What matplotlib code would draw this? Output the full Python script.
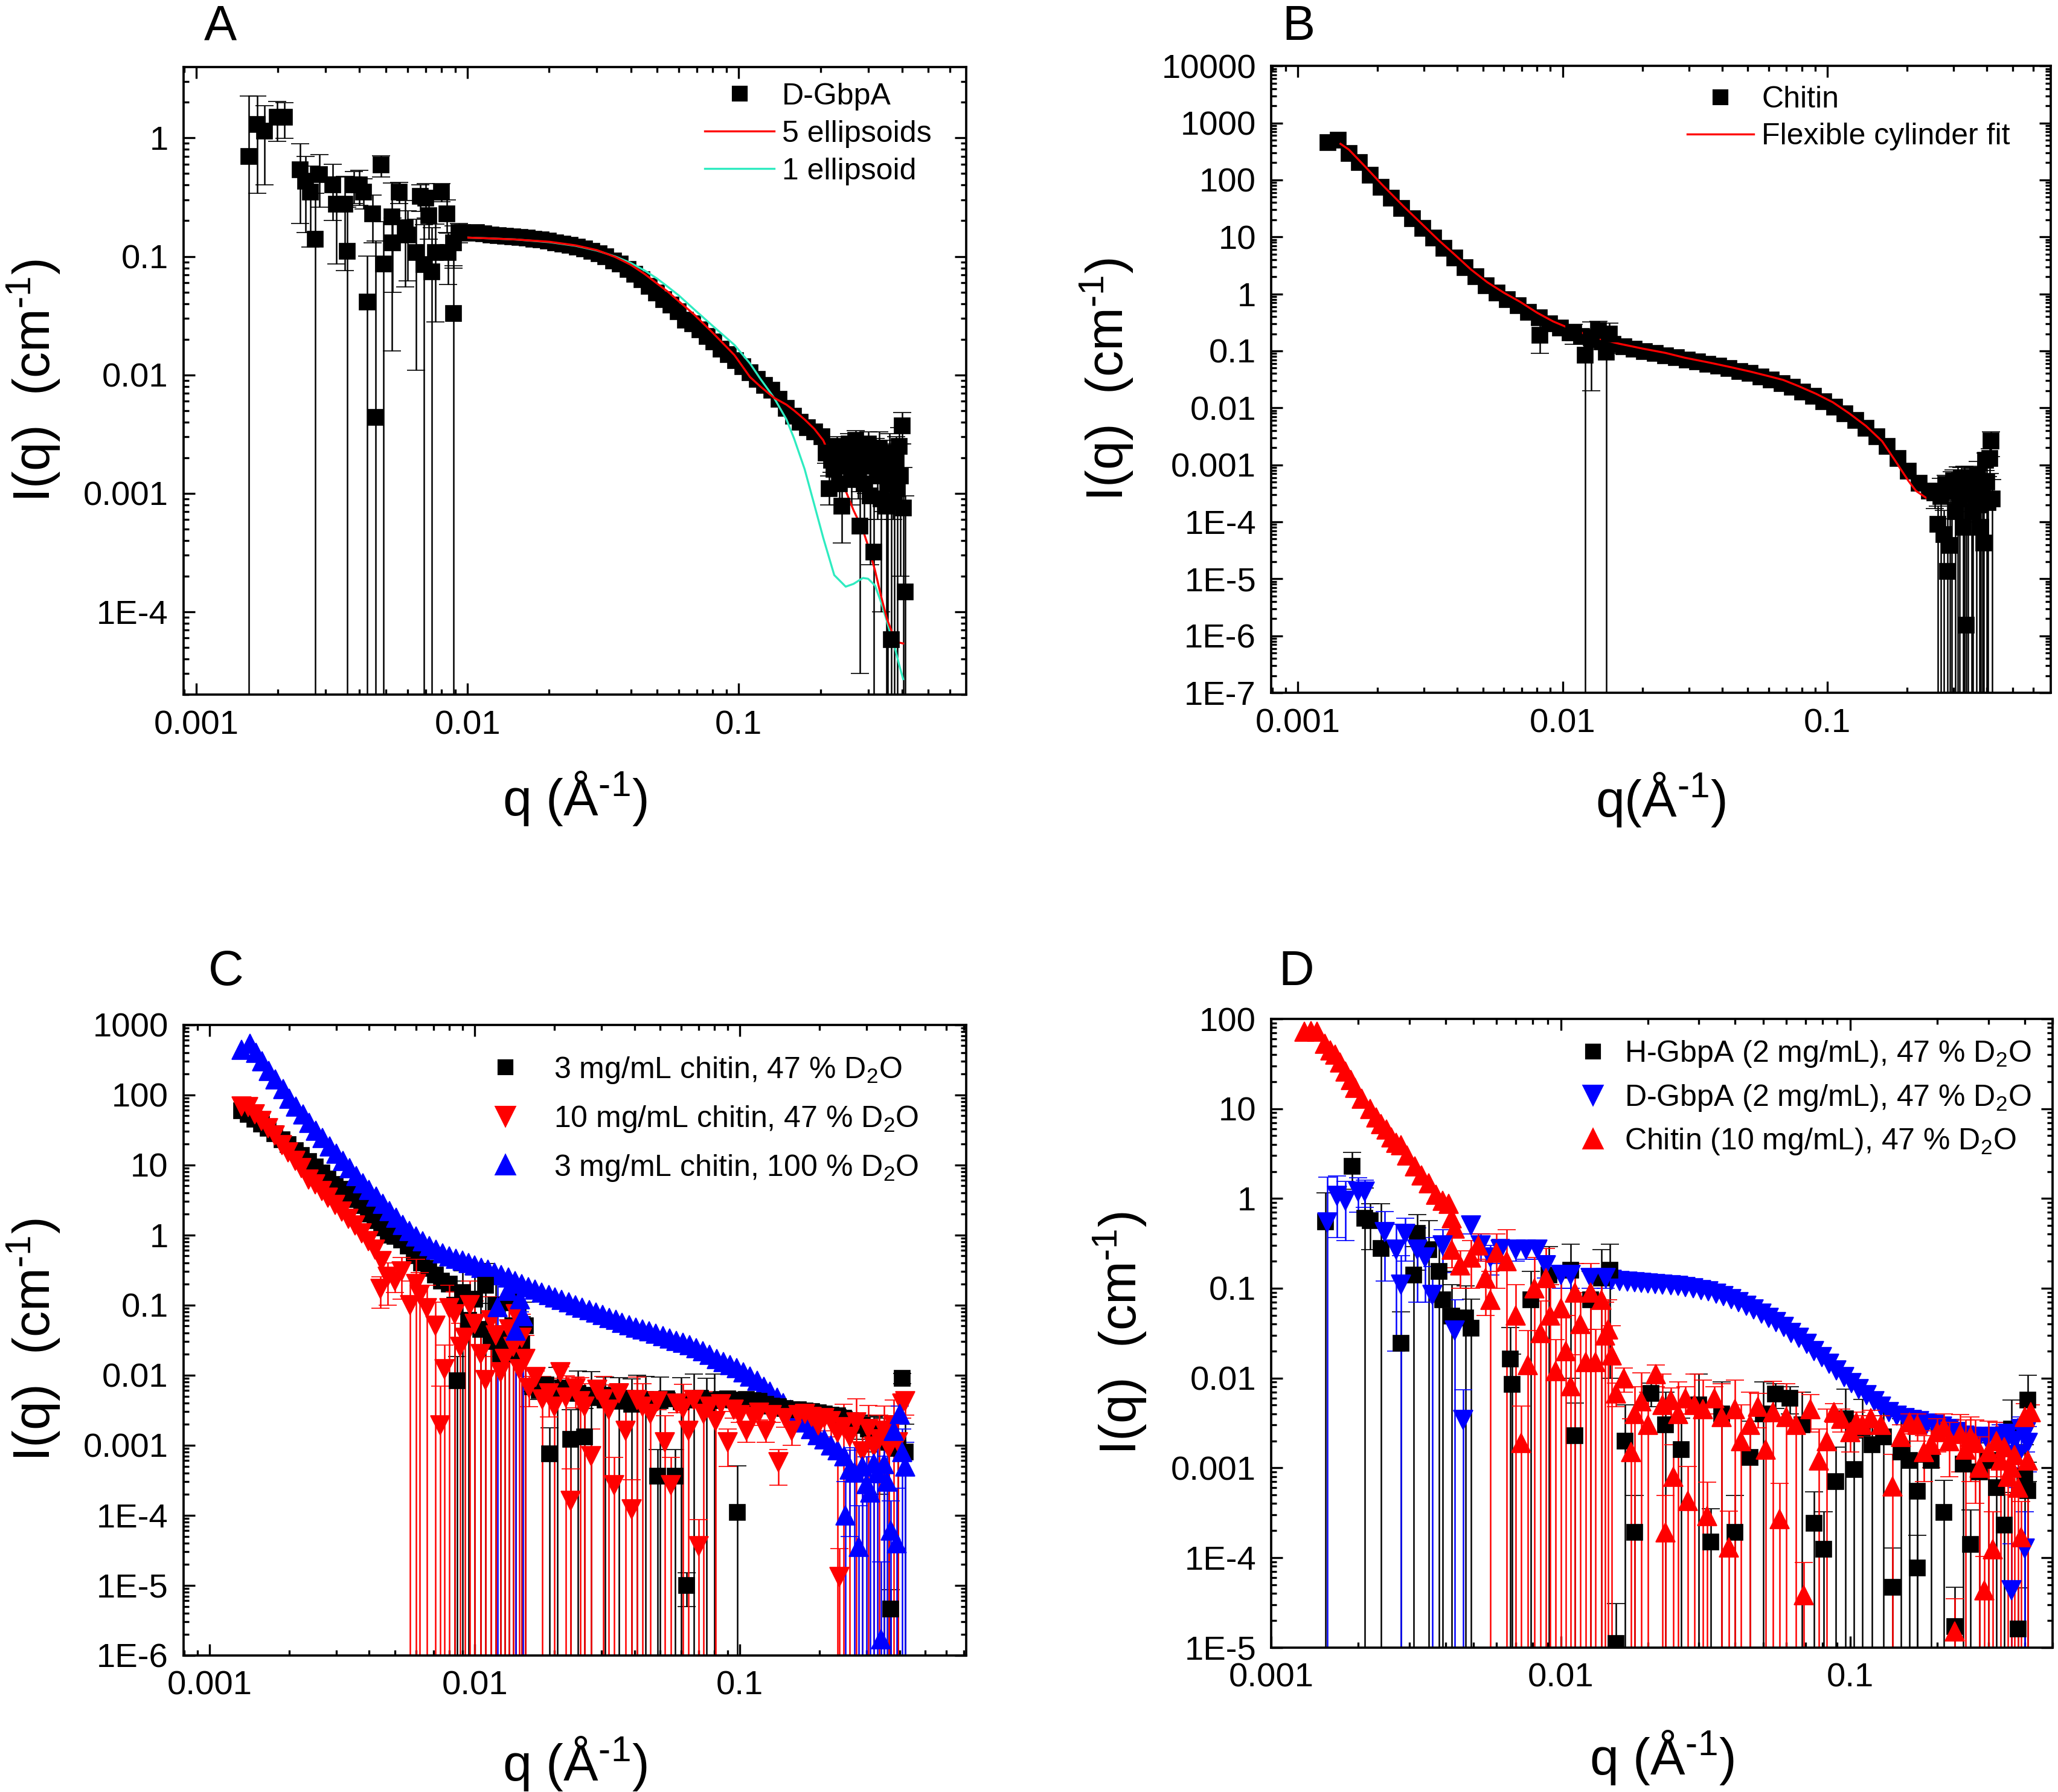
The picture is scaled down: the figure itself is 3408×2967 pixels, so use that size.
import numpy as np
import matplotlib
matplotlib.use('Agg')
import matplotlib.pyplot as plt
from matplotlib.lines import Line2D
from matplotlib.ticker import LogLocator, FuncFormatter, NullFormatter

plt.rcParams['font.family'] = ['Liberation Sans', 'DejaVu Sans']
plt.rcParams['mathtext.fontset'] = 'custom'
plt.rcParams['mathtext.rm'] = 'Liberation Sans'
plt.rcParams['mathtext.it'] = 'Liberation Sans:italic'
plt.rcParams['mathtext.bf'] = 'Liberation Sans:bold'
plt.rcParams['mathtext.default'] = 'rm'

CYAN = '#2EEBC0'

# ---------------- panel A : D-GbpA ----------------
qA_lo = [0.00156, 0.00168, 0.00178, 0.00199, 0.00211, 0.00242, 0.00253, 0.00264, 0.00274, 0.00285,
         0.00318, 0.00329, 0.00352, 0.0036, 0.00382, 0.004, 0.00413, 0.00426, 0.00446, 0.00459,
         0.0048, 0.0049, 0.00525, 0.0053, 0.0056, 0.0059, 0.006, 0.00645, 0.0067, 0.0069,
         0.007, 0.0072, 0.0074, 0.0076, 0.008, 0.0084, 0.0085, 0.0089, 0.0089, 0.0093]
IA_lo = [0.70, 1.30, 1.14, 1.49, 1.49, 0.54, 0.43, 0.35, 0.14, 0.49,
         0.40, 0.276, 0.276, 0.11, 0.40, 0.40, 0.35, 0.041, 0.23, 0.0044,
         0.59, 0.086, 0.216, 0.13, 0.35, 0.175, 0.152, 0.108, 0.32, 0.085,
         0.31, 0.22, 0.074, 0.108, 0.35, 0.23, 0.108, 0.033, 0.13, 0.16]
eA_lo = [1.56, 0.96, 0.74, 0.55, 0.5, 0.35, 0.27, 0.23, 0.2, 0.23,
         0.2, 0.19, 0.2, 0.15, 0.12, 0.13, 0.1, 0.06, 0.1, 0.13,
         0.12, 0.11, 0.2, 0.08, 0.07, 0.12, 0.09, 0.097, 0.08, 0.1,
         0.1, 0.08, 0.1, 0.08, 0.06, 0.07, 0.05, 0.05, 0.05, 0.03]
qA_s = [0.0096, 0.0102, 0.0108, 0.0115, 0.0122, 0.013, 0.0138, 0.0147, 0.0156, 0.0166,
        0.0176, 0.0187, 0.0199, 0.0211, 0.0225, 0.0239, 0.0254, 0.027, 0.0287, 0.0305,
        0.0324, 0.0345, 0.0366, 0.039, 0.0414, 0.044, 0.0468, 0.0497, 0.0529, 0.0562,
        0.0597, 0.0635, 0.0675, 0.0718, 0.0763, 0.0811, 0.0862, 0.0916, 0.0974, 0.1035,
        0.11, 0.117, 0.1244, 0.1322, 0.1405, 0.1494, 0.1588, 0.1688, 0.1794, 0.1907, 0.2027]
IA_s = [0.16, 0.158, 0.16, 0.155, 0.152, 0.15, 0.148, 0.146, 0.145, 0.143,
        0.14, 0.138, 0.135, 0.13, 0.127, 0.124, 0.12, 0.116, 0.111, 0.105,
        0.099, 0.092, 0.086, 0.078, 0.071, 0.064, 0.056, 0.049, 0.043, 0.039,
        0.034, 0.029, 0.027, 0.024, 0.021, 0.019, 0.0165, 0.0148, 0.0132, 0.0118,
        0.0105, 0.0092, 0.0082, 0.0074, 0.0062, 0.0052, 0.0045, 0.004, 0.0036, 0.0033, 0.003]
qA_hi = [0.21, 0.215, 0.22, 0.225, 0.23, 0.235, 0.24, 0.245, 0.25, 0.255,
         0.26, 0.265, 0.27, 0.275, 0.28, 0.285, 0.29, 0.295, 0.30, 0.305,
         0.31, 0.315, 0.32, 0.325, 0.33, 0.335, 0.34, 0.345, 0.35, 0.355,
         0.36, 0.365, 0.37, 0.375, 0.38, 0.385, 0.39, 0.395, 0.40, 0.405, 0.41]
IA_hi = [0.0022, 0.0011, 0.0019, 0.0016, 0.0025, 0.0012, 0.00078, 0.0021, 0.0017, 0.0026,
         0.0013, 0.0019, 0.0028, 0.0015, 0.00053, 0.0022, 0.0012, 0.0017, 0.0026, 0.00095,
         0.0018, 0.00032, 0.0021, 0.0014, 0.0024, 0.0009, 0.0016, 0.0019, 0.00078, 0.0012,
         0.0022, 0.000058, 0.0016, 0.00085, 0.0019, 0.0011, 0.0025, 0.0014, 0.0037, 0.00075, 0.000148]
eA_hi = [0.0004, 0.0003, 0.0004, 0.0004, 0.0005, 0.0004, 0.0004, 0.0005, 0.0005, 0.0006,
         0.0005, 0.0006, 0.0006, 0.0006, 0.0005, 0.0007, 0.0006, 0.0007, 0.0007, 0.0007,
         0.0008, 0.0006, 0.0008, 0.0008, 0.0009, 0.0008, 0.0009, 0.0009, 0.0009, 0.0013,
         0.001, 0.0008, 0.001, 0.0009, 0.0011, 0.0012, 0.0011, 0.0012, 0.0011, 0.0009, 0.0008]
qA_fit = [0.0093, 0.012, 0.015, 0.02, 0.025, 0.03, 0.035, 0.04, 0.045, 0.05,
          0.055, 0.06, 0.0686, 0.08, 0.0964, 0.11, 0.12, 0.135, 0.15, 0.16,
          0.175, 0.19, 0.205, 0.225, 0.248, 0.265, 0.287, 0.30, 0.318, 0.335,
          0.352, 0.365, 0.377, 0.39, 0.404]
IA_fit5 = [0.145, 0.142, 0.139, 0.133, 0.124, 0.113, 0.099, 0.085, 0.071, 0.059,
           0.05, 0.042, 0.0322, 0.0228, 0.0147, 0.0096, 0.008, 0.0064, 0.0056, 0.005,
           0.0042, 0.0035, 0.0028, 0.0017, 0.00105, 0.00072, 0.00049, 0.00036, 0.000224, 0.000135,
           8.7e-5, 7e-5, 5.9e-5, 5.5e-5, 5.4e-5]
IA_fit1 = [0.145, 0.142, 0.139, 0.132, 0.123, 0.112, 0.1, 0.088, 0.076, 0.065,
           0.055, 0.047, 0.0356, 0.026, 0.0179, 0.0125, 0.0093, 0.0064, 0.0042, 0.0029,
           0.0016, 0.0008, 0.00042, 0.000204, 0.000163, 0.000172, 0.000193, 0.00019, 0.000167, 0.00012,
           8.3e-5, 6.2e-5, 4.9e-5, 3.6e-5, 2.7e-5]

# ---------------- panel B : chitin ----------------
qB_s = [0.0013, 0.00142, 0.00156, 0.00171, 0.00188, 0.00206, 0.00226, 0.00247, 0.00271, 0.00297,
        0.00326, 0.00357, 0.00391, 0.00429, 0.0047, 0.00515, 0.00565, 0.00619, 0.00678, 0.00743,
        0.00815, 0.00893, 0.00979, 0.0107, 0.0118, 0.0129, 0.0141, 0.0155, 0.017, 0.0186,
        0.0204, 0.0224, 0.0245, 0.0269, 0.0295, 0.0323, 0.0354, 0.0388, 0.0425, 0.0466,
        0.0511, 0.056, 0.0614, 0.0673, 0.0737, 0.0808, 0.0886, 0.0971, 0.1064, 0.1166,
        0.1278, 0.1401, 0.1536, 0.1683, 0.1845, 0.2022, 0.2216, 0.243]
IB_s = [450, 500, 290, 200, 120, 75, 48, 32, 21, 14,
        9.5, 6.4, 4.3, 2.9, 2.0, 1.4, 1.05, 0.8, 0.62, 0.48,
        0.38, 0.3, 0.25, 0.21, 0.18, 0.16, 0.145, 0.13, 0.118, 0.107,
        0.098, 0.09, 0.083, 0.076, 0.07, 0.064, 0.059, 0.054, 0.049, 0.044,
        0.04, 0.035, 0.031, 0.027, 0.023, 0.019, 0.016, 0.0128, 0.0102, 0.0079,
        0.006, 0.0044, 0.0031, 0.0021, 0.0013, 0.00078, 0.00048, 0.00035]
qB_m = [0.0082, 0.011, 0.0122, 0.0128, 0.0137, 0.0146, 0.015]
IB_m = [0.19, 0.21, 0.085, 0.17, 0.23, 0.094, 0.2]
eB_m = [0.1, 0.08, 0.1, 0.15, 0.1, 0.12, 0.11]
qB_h = [0.255, 0.262, 0.268, 0.275, 0.28, 0.285, 0.29, 0.295, 0.30, 0.305,
        0.31, 0.315, 0.32, 0.325, 0.33, 0.335, 0.34, 0.345, 0.35, 0.355,
        0.36, 0.365, 0.37, 0.375, 0.38, 0.385, 0.39, 0.395, 0.40, 0.405,
        0.41, 0.415, 0.42]
IB_h = [0.00032, 9e-5, 0.00028, 6e-5, 0.00045, 1.35e-5, 3.9e-5, 0.00035, 0.00052, 0.00015,
        0.00042, 0.00025, 0.0006, 8e-5, 0.00045, 1.55e-6, 0.0003, 0.00055, 0.00035, 0.00015,
        0.0005, 0.00028, 0.00065, 0.0002, 8e-5, 0.0004, 4.3e-5, 0.0012, 0.0005, 0.00022,
        0.0013, 0.0026, 0.00025]
eB_h = [0.00015, 0.0001, 0.0003, 0.0001, 0.0002, 0.0001, 0.0002, 0.0004, 0.0003, 0.0003,
        0.0005, 0.0004, 0.0003, 0.0002, 0.0005, 0.0002, 0.0004, 0.0004, 0.0005, 0.0003,
        0.0004, 0.0004, 0.0005, 0.0003, 0.0002, 0.0005, 0.0002, 0.0004, 0.0006, 0.0004,
        0.0006, 0.0012, 0.0003]
qB_fit = [0.00145, 0.00156, 0.0018, 0.00208, 0.0025, 0.00293, 0.0034, 0.0039, 0.0045, 0.0052,
          0.006, 0.0069, 0.008, 0.0092, 0.0106, 0.0122, 0.014, 0.0163, 0.02, 0.0245,
          0.0289, 0.036, 0.043, 0.051, 0.06, 0.068, 0.078, 0.0908, 0.105, 0.121,
          0.14, 0.161, 0.18, 0.202, 0.216, 0.24, 0.27, 0.30, 0.32, 0.35,
          0.38, 0.406]
IB_fit = [430, 340, 170, 83, 35, 17.2, 8.8, 4.97, 2.7, 1.6,
          1.05, 0.73, 0.47, 0.33, 0.25, 0.197, 0.16, 0.134, 0.11, 0.092,
          0.076, 0.062, 0.052, 0.0435, 0.036, 0.031, 0.024, 0.0176, 0.0125, 0.008,
          0.0048, 0.0026, 0.0012, 0.00053, 0.00035, 0.00025, 0.00028, 0.00034, 0.00034, 0.00031,
          0.00027, 0.000245]

# ---------------- panel C : chitin contrasts ----------------
qCk_s = [0.00132, 0.0014, 0.00148, 0.00157, 0.00166, 0.00176, 0.00187, 0.00198, 0.0021, 0.00222,
         0.00236, 0.0025, 0.00265, 0.0028, 0.00297, 0.00315, 0.00334, 0.00354, 0.00375, 0.00397,
         0.0042, 0.00446, 0.00472, 0.005, 0.0053, 0.0056, 0.0059, 0.0063, 0.0067, 0.0071,
         0.0075, 0.008]
ICk_s = [59, 52, 45, 38, 33, 28, 23, 19.5, 16, 13.5,
         11.2, 9.3, 7.6, 6.3, 5.3, 4.5, 3.8, 3.2, 2.6, 2.0,
         1.6, 1.25, 1.0, 0.95, 0.85, 0.7, 0.5, 0.4, 0.33, 0.27,
         0.22, 0.2]
qCk_m = [0.0084, 0.0086, 0.009, 0.0095, 0.01, 0.0105, 0.011, 0.0115, 0.012, 0.0125,
         0.013, 0.0135, 0.014, 0.0143, 0.015, 0.0155]
ICk_m = [0.1, 0.0083, 0.15, 0.06, 0.12, 0.045, 0.19, 0.03, 0.1, 0.02,
         0.033, 0.11, 0.05, 0.02, 0.028, 0.05]
eCk_m = [0.12, 0.01, 0.16, 0.08, 0.15, 0.06, 0.2, 0.05, 0.12, 0.03,
         0.05, 0.12, 0.07, 0.03, 0.04, 0.06]
qCk_f = [0.0165, 0.0175, 0.0185, 0.0191, 0.0205, 0.0215, 0.023, 0.0245, 0.026, 0.0275,
         0.029, 0.031, 0.033, 0.035, 0.037, 0.039, 0.041, 0.044, 0.049, 0.05,
         0.053, 0.057, 0.06, 0.063, 0.067, 0.071, 0.075, 0.08, 0.085, 0.09,
         0.095, 0.0976, 0.106, 0.112, 0.118, 0.125, 0.132, 0.14, 0.148, 0.157,
         0.166, 0.176, 0.186, 0.197, 0.208, 0.22, 0.233, 0.246, 0.26, 0.275,
         0.29, 0.305, 0.32, 0.335, 0.35, 0.365, 0.37, 0.395, 0.41, 0.42]
ICk_f = [0.0068, 0.006, 0.0072, 0.00075, 0.0058, 0.0065, 0.0012, 0.0055, 0.0013, 0.0052,
         0.0048, 0.0044, 0.0052, 0.0042, 0.0047, 0.0038, 0.004, 0.0045, 0.00036, 0.0043,
         0.0046, 0.00036, 0.0041, 1e-5, 0.0044, 0.0047, 0.0039, 0.0043, 0.0045, 0.0046,
         0.0044, 1.1e-4, 0.0045, 0.0043, 0.0042, 0.0038, 0.0036, 0.0035, 0.0033, 0.0032,
         0.0032, 0.0031, 0.003, 0.0029, 0.0028, 0.0027, 0.0026, 0.0024, 0.0022, 0.002,
         0.0019, 0.0017, 0.0015, 0.0014, 0.0012, 0.0011, 4.6e-6, 0.0009, 0.009, 0.0008]
eCk_f = [0.001, 0.0015, 0.001, 0.001, 0.007, 0.001, 0.002, 0.006, 0.002, 0.006,
         0.001, 0.005, 0.001, 0.005, 0.001, 0.005, 0.006, 0.005, 0.0005, 0.005,
         0.001, 0.0005, 0.005, 5e-6, 0.006, 0.001, 0.005, 0.006, 0.001, 0.0007,
         0.0006, 4e-4, 0.0006, 0.0006, 0.0005, 0.0005, 0.0005, 0.0005, 0.0005, 0.0005,
         0.0005, 0.0005, 0.0005, 0.0005, 0.0005, 0.0006, 0.0006, 0.0006, 0.0007, 0.0008,
         0.0008, 0.0009, 0.001, 0.0012, 0.0012, 0.0015, 4e-6, 0.0015, 0.0015, 0.0012]

qCr_s = [0.00132, 0.0014, 0.00148, 0.00157, 0.00166, 0.00176, 0.00187, 0.00198, 0.0021, 0.00222,
         0.00236, 0.0025, 0.00265, 0.0028, 0.00297, 0.00315, 0.00334, 0.00354, 0.00375, 0.00397,
         0.0042, 0.00446]
ICr_s = [68, 66, 52, 42, 33, 26, 19, 15, 11.5, 9,
         6.2, 5.2, 4.2, 3.4, 2.7, 2.15, 1.7, 1.35, 1.05, 0.82,
         0.62, 0.42]
qCr_m = [0.0044, 0.0047, 0.005, 0.0053, 0.0057, 0.006, 0.0062, 0.0066, 0.0071, 0.0074,
         0.0077, 0.008, 0.0084, 0.0088, 0.0092, 0.0096, 0.01, 0.0105, 0.011, 0.0115,
         0.012, 0.0125, 0.013, 0.0135, 0.014, 0.0143, 0.0147, 0.015, 0.0155]
ICr_m = [0.17, 0.25, 0.22, 0.3, 0.1, 0.2, 0.14, 0.09, 0.05, 0.0019,
         0.012, 0.09, 0.074, 0.025, 0.034, 0.1, 0.054, 0.02, 0.0084, 0.06,
         0.037, 0.011, 0.017, 0.045, 0.025, 0.074, 0.012, 0.034, 0.017]
eCr_m = [0.08, 0.15, 0.07, 0.18, 0.12, 0.25, 0.15, 0.1, 0.06, 0.005,
         0.015, 0.1, 0.08, 0.03, 0.04, 0.12, 0.06, 0.03, 0.01, 0.07,
         0.04, 0.015, 0.02, 0.05, 0.03, 0.08, 0.015, 0.04, 0.02]
qCr_f = [0.016, 0.017, 0.018, 0.019, 0.02, 0.021, 0.022, 0.023, 0.024, 0.025,
         0.026, 0.0275, 0.029, 0.0305, 0.032, 0.0335, 0.035, 0.037, 0.039, 0.041,
         0.043, 0.046, 0.049, 0.052, 0.055, 0.058, 0.061, 0.064, 0.067, 0.07,
         0.073, 0.077, 0.081, 0.085, 0.09, 0.095, 0.1, 0.106, 0.112, 0.118,
         0.125, 0.132, 0.14, 0.148, 0.157, 0.166, 0.176, 0.186, 0.197, 0.208,
         0.22, 0.233, 0.237, 0.246, 0.26, 0.275, 0.29, 0.305, 0.32, 0.335,
         0.35, 0.365, 0.38, 0.395, 0.41, 0.42]
ICr_f = [0.0065, 0.0094, 0.0045, 0.0055, 0.0035, 0.011, 0.0048, 0.00016, 0.0064, 0.0042,
         0.0035, 0.0007, 0.0061, 0.0045, 0.0032, 0.00027, 0.0055, 0.0016, 0.00012, 0.0044,
         0.0035, 0.0028, 0.0042, 0.0011, 0.00027, 0.0039, 0.0033, 0.0016, 0.0044, 3.6e-5,
         0.0028, 0.0035, 0.0022, 0.0038, 0.0011, 0.0032, 0.0027, 0.0016, 0.0025, 0.0029,
         0.0016, 0.0027, 0.00057, 0.0024, 0.0016, 0.0027, 0.0028, 0.0025, 0.0019, 0.0024,
         0.0022, 0.0015, 1.3e-5, 0.0018, 0.0013, 0.0021, 0.00081, 0.0017, 0.00095, 0.0012,
         0.0016, 0.0009, 0.0019, 0.0011, 0.0039, 0.0042]
eCr_f = [0.003, 0.002, 0.005, 0.003, 0.004, 0.002, 0.005, 0.0003, 0.003, 0.005,
         0.004, 0.001, 0.002, 0.005, 0.004, 0.0004, 0.002, 0.002, 0.0002, 0.005,
         0.004, 0.003, 0.001, 0.0015, 0.0004, 0.001, 0.004, 0.002, 0.001, 5e-5,
         0.003, 0.001, 0.003, 0.0008, 0.0006, 0.0008, 0.0006, 0.0005, 0.0006, 0.0006,
         0.0005, 0.0006, 0.0003, 0.0006, 0.0006, 0.0006, 0.0006, 0.0007, 0.0007, 0.0008,
         0.0009, 0.0015, 2e-5, 0.002, 0.0015, 0.0025, 0.001, 0.002, 0.0012, 0.0015,
         0.002, 0.0012, 0.0025, 0.0014, 0.0015, 0.0015]

qCb_s = [0.00132, 0.00142, 0.0015, 0.00158, 0.00167, 0.00177, 0.00189, 0.002, 0.00212, 0.00225,
         0.00238, 0.00252, 0.00267, 0.00283, 0.003, 0.00318, 0.00337, 0.00357, 0.00378, 0.004,
         0.00424, 0.0045, 0.00477, 0.00505, 0.00535, 0.00567, 0.006, 0.00636, 0.00674, 0.00714,
         0.00757, 0.008, 0.0085, 0.009, 0.0095, 0.01, 0.0106, 0.0112, 0.0119, 0.0126,
         0.0134, 0.0142, 0.015, 0.0159, 0.0169, 0.0179, 0.019, 0.0201, 0.0213, 0.0226,
         0.024, 0.0254, 0.027, 0.0286, 0.0303, 0.0321, 0.034, 0.036, 0.0382, 0.0405,
         0.043, 0.0455, 0.0483, 0.0512, 0.0543, 0.0575, 0.061, 0.0646, 0.0685, 0.0727,
         0.077, 0.0817, 0.0866, 0.0918, 0.0973, 0.103, 0.109, 0.116, 0.123, 0.13,
         0.138, 0.146, 0.155, 0.164, 0.174, 0.185, 0.196, 0.208, 0.22, 0.233, 0.247]
ICb_s = [440, 540, 400, 300, 220, 165, 120, 88, 68, 52,
         40, 31, 24, 18.5, 14.5, 11.5, 9.0, 7.0, 5.5, 4.4,
         3.5, 2.8, 2.2, 1.75, 1.4, 1.15, 0.95, 0.82, 0.7, 0.62,
         0.55, 0.49, 0.46, 0.43, 0.40, 0.37, 0.34, 0.32, 0.29, 0.27,
         0.245, 0.22, 0.2, 0.18, 0.165, 0.15, 0.138, 0.128, 0.118, 0.109,
         0.1, 0.092, 0.085, 0.078, 0.072, 0.066, 0.061, 0.056, 0.052, 0.048,
         0.045, 0.042, 0.039, 0.036, 0.033, 0.031, 0.029, 0.027, 0.024, 0.022,
         0.0195, 0.017, 0.0152, 0.0138, 0.0125, 0.011, 0.0096, 0.0083, 0.0068, 0.0058,
         0.0048, 0.004, 0.0032, 0.0026, 0.0021, 0.0017, 0.0014, 0.0012, 0.001, 0.00085, 0.0007]
qCb_n = [0.0122, 0.0133, 0.0143, 0.0148, 0.0152, 0.25, 0.26, 0.27, 0.28, 0.29,
         0.30, 0.31, 0.32, 0.33, 0.34, 0.35, 0.36, 0.37, 0.38, 0.39,
         0.40, 0.41, 0.42]
ICb_n = [0.094, 0.16, 0.043, 0.12, 0.07, 0.0001, 0.00045, 0.00041, 3.5e-5, 0.0005,
         0.00028, 0.00021, 0.00055, 0.0004, 1.7e-6, 0.00054, 0.0003, 6e-5, 0.0016, 4e-5,
         0.0028, 0.0008, 0.0005]
eCb_n = [0.1, 0.05, 0.05, 0.04, 0.08, 0.0002, 0.0004, 0.0005, 0.0001, 0.0006,
         0.0004, 0.0003, 0.0006, 0.0005, 2e-5, 0.0006, 0.0004, 0.0001, 0.0006, 0.0002,
         0.0008, 0.0009, 0.0006]

# ---------------- panel D : GbpA and chitin at 47 % D2O ----------------
qDk = [0.00154, 0.0019, 0.0021, 0.0022, 0.0024, 0.0028, 0.0031, 0.0032, 0.0035, 0.0038,
       0.0039, 0.0042, 0.0047, 0.0049, 0.0067, 0.0068, 0.0079, 0.0091, 0.0108, 0.0112,
       0.0127, 0.0138, 0.0148, 0.0155, 0.0167, 0.018, 0.0205, 0.023, 0.026, 0.03,
       0.033, 0.036, 0.04, 0.045, 0.05, 0.055, 0.062, 0.068, 0.075, 0.081,
       0.089, 0.096, 0.103, 0.11, 0.119, 0.13, 0.14, 0.15, 0.16, 0.17,
       0.17, 0.19, 0.21, 0.23, 0.245, 0.26, 0.28, 0.3, 0.32, 0.34,
       0.36, 0.38, 0.40, 0.41, 0.41]
IDk = [0.55, 2.27, 0.6, 0.57, 0.28, 0.0245, 0.14, 0.41, 0.27, 0.155,
       0.075, 0.049, 0.047, 0.036, 0.0163, 0.0085, 0.075, 0.14, 0.16, 0.0023,
       0.075, 0.13, 0.16, 1.1e-5, 0.002, 1.9e-4, 0.0068, 0.003, 0.0016, 0.005,
       1.5e-4, 0.004, 1.9e-4, 0.0013, 0.004, 0.0066, 0.006, 0.003, 2.4e-4, 1.24e-4,
       7e-4, 0.0035, 9.6e-4, 0.0028, 0.0018, 0.0022, 4.7e-5, 0.0015, 0.0012, 7.7e-5,
       5.5e-4, 0.0012, 3.2e-4, 1.7e-5, 0.0011, 1.4e-4, 0.0009, 0.0012, 0.0006, 2.3e-4,
       0.0027, 1.6e-5, 0.0008, 0.0057, 5.6e-4]
eDk = [0.6, 1.0, 0.7, 0.3, 0.6, 0.03, 0.15, 0.25, 0.3, 0.16,
       0.08, 0.06, 0.06, 0.04, 0.02, 0.01, 0.08, 0.15, 0.15, 0.003,
       0.08, 0.14, 0.15, 2e-5, 0.003, 3e-4, 0.002, 0.004, 0.002, 0.006,
       2e-4, 0.005, 3e-4, 0.002, 0.005, 0.002, 0.002, 0.004, 3e-4, 2e-4,
       0.001, 0.004, 0.0012, 0.003, 0.002, 0.0025, 8e-5, 0.002, 0.0015, 1e-4,
       6e-4, 0.0015, 4e-4, 3e-5, 0.0015, 2e-4, 0.001, 0.0015, 0.0008, 3e-4,
       0.003, 3e-5, 0.001, 0.005, 6e-4]

qDb_n = [0.00156, 0.00169, 0.0018, 0.002, 0.0021, 0.00247, 0.0027, 0.0028, 0.0029, 0.0032,
         0.0034, 0.0036, 0.0039, 0.0043, 0.0046, 0.0049, 0.0053, 0.0057, 0.0062, 0.007,
         0.0076, 0.0083, 0.0089, 0.01, 0.0108, 0.0127, 0.0143]
IDb_n = [0.54, 1.07, 0.94, 1.2, 1.2, 0.42, 0.27, 0.11, 0.4, 0.27,
         0.22, 0.084, 0.3, 0.034, 0.0034, 0.5, 0.3, 0.22, 0.27, 0.27,
         0.27, 0.27, 0.18, 0.14, 0.14, 0.13, 0.13]
eDb_n = [1.2, 0.7, 0.6, 0.5, 0.4, 0.3, 0.25, 0.12, 0.2, 0.2,
         0.15, 0.09, 0.15, 0.04, 0.004, 0.1, 0.1, 0.08, 0.08, 0.07,
         0.06, 0.06, 0.05, 0.04, 0.04, 0.03, 0.03]
qDb_s = [0.015, 0.016, 0.017, 0.018, 0.019, 0.02, 0.0212, 0.0225, 0.024, 0.0255,
         0.027, 0.0287, 0.0305, 0.0324, 0.0344, 0.0365, 0.0388, 0.0412, 0.0437, 0.0464,
         0.0493, 0.0523, 0.0555, 0.059, 0.0626, 0.0665, 0.0706, 0.075, 0.0796, 0.0845,
         0.0897, 0.0953, 0.101, 0.107, 0.114, 0.121, 0.128, 0.136, 0.145, 0.154,
         0.163, 0.173, 0.184, 0.195, 0.207, 0.22, 0.233, 0.248, 0.263, 0.279,
         0.296, 0.315]
IDb_s = [0.125, 0.12, 0.118, 0.117, 0.115, 0.113, 0.112, 0.11, 0.108, 0.106,
         0.103, 0.1, 0.096, 0.092, 0.087, 0.082, 0.076, 0.07, 0.064, 0.058,
         0.052, 0.047, 0.042, 0.037, 0.032, 0.028, 0.024, 0.02, 0.017, 0.0145,
         0.0122, 0.0103, 0.0088, 0.0075, 0.0064, 0.0055, 0.0048, 0.0042, 0.0038, 0.0036,
         0.0034, 0.0033, 0.0031, 0.003, 0.0029, 0.0027, 0.0025, 0.0023, 0.0022, 0.0022,
         0.0021, 0.0022]
qDb_h = [0.33, 0.34, 0.35, 0.36, 0.37, 0.38, 0.39, 0.40, 0.405, 0.41]
IDb_h = [0.0022, 0.0018, 0.0024, 4.3e-5, 0.002, 0.0014, 0.0027, 1.26e-4, 0.0025, 0.0019]
eDb_h = [0.0008, 0.0008, 0.0008, 1e-4, 0.001, 0.0008, 0.001, 2e-4, 0.001, 0.001]

qDr_s = [0.0013, 0.00137, 0.00144, 0.00153, 0.0016, 0.00166, 0.00173, 0.0018, 0.00188, 0.00195,
         0.00205, 0.0022, 0.0023, 0.0024, 0.0025, 0.0026, 0.0027, 0.0028, 0.00295, 0.00314,
         0.0033, 0.0035, 0.0037, 0.0039, 0.0041, 0.0042, 0.0043]
IDr_s = [72, 73, 72, 53, 45, 40, 33, 26, 21, 17,
         13, 10, 8, 6.8, 5.9, 4.8, 4.2, 3.9, 3.0, 2.27,
         1.8, 1.48, 1.1, 0.95, 0.87, 0.6, 0.46]
qDr_m = [0.0042, 0.0045, 0.0049, 0.0052, 0.0055, 0.0057, 0.006, 0.0065, 0.007, 0.0073,
         0.0077, 0.0081, 0.0085, 0.0089, 0.0092, 0.0096, 0.01, 0.0104, 0.0108, 0.0112,
         0.0117, 0.0122, 0.0127, 0.0132, 0.0138, 0.0142, 0.0146, 0.015]
IDr_m = [0.27, 0.18, 0.22, 0.3, 0.13, 0.075, 0.25, 0.2, 0.05, 0.0019,
         0.014, 0.1, 0.032, 0.13, 0.05, 0.012, 0.06, 0.02, 0.0081, 0.09,
         0.04, 0.015, 0.09, 0.015, 0.075, 0.03, 0.035, 0.018]
eDr_m = [0.1, 0.08, 0.12, 0.1, 0.08, 0.08, 0.15, 0.25, 0.06, 0.003,
         0.02, 0.12, 0.04, 0.15, 0.06, 0.015, 0.07, 0.03, 0.01, 0.1,
         0.05, 0.02, 0.1, 0.02, 0.08, 0.04, 0.04, 0.02]
qDr_f = [0.0155, 0.0165, 0.0175, 0.018, 0.019, 0.02, 0.0213, 0.0225, 0.023, 0.024,
         0.0245, 0.0255, 0.027, 0.0275, 0.029, 0.031, 0.032, 0.034, 0.036, 0.038,
         0.04, 0.042, 0.045, 0.048, 0.051, 0.054, 0.057, 0.06, 0.065, 0.069,
         0.073, 0.078, 0.083, 0.088, 0.093, 0.1, 0.105, 0.11, 0.118, 0.128,
         0.14, 0.15, 0.16, 0.17, 0.18, 0.19, 0.2, 0.21, 0.22, 0.23,
         0.24, 0.25, 0.26, 0.27, 0.28, 0.29, 0.3, 0.31, 0.32, 0.33,
         0.34, 0.35, 0.36, 0.37, 0.38, 0.39, 0.40, 0.41, 0.42]
IDr_f = [0.0068, 0.01, 0.0015, 0.004, 0.0055, 0.003, 0.011, 0.005, 0.00019, 0.0057,
         0.0008, 0.004, 0.006, 0.00043, 0.005, 0.0045, 0.00029, 0.006, 0.0037, 0.00013,
         0.0045, 0.002, 0.003, 0.0048, 0.0016, 0.0042, 0.00027, 0.0037, 0.003, 3.8e-5,
         0.0045, 0.0012, 0.002, 0.0042, 0.0035, 0.0025, 0.0032, 0.003, 0.0036, 0.003,
         0.00062, 0.0022, 0.0032, 0.003, 0.0015, 0.0018, 0.0025, 0.0028, 0.002, 1.5e-5,
         0.0024, 0.0016, 0.0022, 0.0019, 0.001, 4.3e-5, 0.0015, 1.25e-4, 0.002, 0.0012,
         0.0017, 0.0008, 0.001, 0.0014, 0.0006, 1.7e-4, 0.0037, 0.0012, 0.0042]
eDr_f = [0.002, 0.003, 0.002, 0.004, 0.006, 0.004, 0.003, 0.006, 0.0003, 0.002,
         0.001, 0.005, 0.002, 0.0006, 0.006, 0.005, 0.0004, 0.002, 0.005, 0.0002,
         0.005, 0.003, 0.004, 0.002, 0.002, 0.005, 0.0004, 0.005, 0.004, 5e-5,
         0.002, 0.0015, 0.0025, 0.001, 0.001, 0.001, 0.001, 0.0008, 0.0008, 0.0008,
         0.0008, 0.0008, 0.0008, 0.001, 0.0008, 0.0008, 0.001, 0.0012, 0.0012, 2e-5,
         0.0015, 0.0018, 0.0015, 0.0015, 0.0012, 6e-5, 0.0018, 2e-4, 0.0012, 0.0015,
         0.0012, 0.0012, 0.0012, 0.0015, 0.0008, 2.5e-4, 0.0015, 0.0012, 0.0008]


def log_label(v, pos):
    e = int(round(np.log10(v)))
    if e >= 0:
        return '%d' % round(10 ** e)
    if e >= -3:
        return ('%.' + str(-e) + 'f') % 10.0 ** e
    return '1E%d' % e


def setup(ax, xlim, ylim):
    ax.set_xscale('log', nonpositive='clip')
    ax.set_yscale('log', nonpositive='clip')
    ax.set_xlim(*xlim)
    ax.set_ylim(*ylim)
    for axis in (ax.xaxis, ax.yaxis):
        axis.set_major_locator(LogLocator(base=10, numticks=30))
        axis.set_minor_locator(LogLocator(base=10, subs=np.arange(2, 10), numticks=30))
        axis.set_major_formatter(FuncFormatter(log_label))
        axis.set_minor_formatter(NullFormatter())
    ax.tick_params(which='both', direction='in', top=True, right=True, width=0.8,
                   labelsize=13.5, pad=6)
    ax.tick_params(which='major', length=4.5)
    ax.tick_params(which='minor', length=2.2)
    for s in ax.spines.values():
        s.set_linewidth(0.9)


def ebar(ax, q, I, e, color, marker, ms):
    ax.errorbar(q, I, yerr=e, fmt=marker, color=color, ms=ms, mew=0.4,
                elinewidth=0.6, capsize=3.5, capthick=0.6)


SQ = 6.2   # square marker size
TR = 7.6   # triangle marker size

fig = plt.figure(figsize=(11.36, 9.89), dpi=300)
axA = fig.add_axes([0.0891, 0.6124, 0.3804, 0.3502])
axB = fig.add_axes([0.6177, 0.6134, 0.3788, 0.3498])
axC = fig.add_axes([0.0891, 0.0763, 0.3804, 0.3519])
axD = fig.add_axes([0.6177, 0.0807, 0.3797, 0.3507])

for ax, xl, yl in [(axA, (0.000896, 0.69), (2.0e-5, 3.97)),
                   (axB, (0.000794, 0.698), (1e-7, 1e4)),
                   (axC, (0.000796, 0.714), (1e-6, 1000)),
                   (axD, (0.001, 0.5), (1e-5, 100))]:
    setup(ax, xl, yl)

ylab = r'I(q)  (cm$^{\text{-1}}$)'
xlab = r'q (Å$^{\text{-1}}$)'

# A
ebar(axA, qA_lo, IA_lo, eA_lo, 'k', 's', SQ)
axA.plot(qA_s, IA_s, 's', color='k', ms=SQ, mew=0.4)
ebar(axA, qA_hi, IA_hi, eA_hi, 'k', 's', SQ)
axA.plot(qA_fit, IA_fit1, color=CYAN, lw=0.8)
axA.plot(qA_fit, IA_fit5, color='red', lw=0.8)
hA = [Line2D([], [], ls='none', marker='s', color='k', ms=5.5),
      Line2D([], [], color='red', lw=0.8), Line2D([], [], color=CYAN, lw=0.8)]
axA.legend(hA, ['D-GbpA', '5 ellipsoids', '1 ellipsoid'], loc='upper left',
           bbox_to_anchor=(0.666, 0.975), frameon=False, fontsize=12, handlelength=2.3,
           handletextpad=0.25, labelspacing=0.32, borderpad=0, borderaxespad=0)
axA.set_ylabel(ylab, fontsize=20.7)
axA.set_xlabel(xlab, fontsize=20.7)
axA.yaxis.set_label_coords(-0.155, 0.5)
axA.xaxis.set_label_coords(0.5, -0.119)

# B
axB.plot(qB_s, IB_s, 's', color='k', ms=SQ, mew=0.4)
ebar(axB, qB_m, IB_m, eB_m, 'k', 's', SQ)
ebar(axB, qB_h, IB_h, eB_h, 'k', 's', SQ)
axB.plot(qB_fit, IB_fit, color='red', lw=0.8)
hB = [Line2D([], [], ls='none', marker='s', color='k', ms=5.5),
      Line2D([], [], color='red', lw=0.8)]
axB.legend(hB, ['Chitin', 'Flexible cylinder fit'], loc='upper left',
           bbox_to_anchor=(0.534, 0.968), frameon=False, fontsize=12, handlelength=2.2,
           handletextpad=0.26, labelspacing=0.3, borderpad=0, borderaxespad=0)
axB.set_ylabel(ylab, fontsize=20.7)
axB.set_xlabel(r'q(Å$^{\text{-1}}$)', fontsize=20.7)
axB.yaxis.set_label_coords(-0.174, 0.5)
axB.xaxis.set_label_coords(0.5, -0.124)

# C
axC.plot(qCk_s, ICk_s, 's', color='k', ms=SQ, mew=0.4)
ebar(axC, qCk_m, ICk_m, eCk_m, 'k', 's', SQ)
ebar(axC, qCk_f, ICk_f, eCk_f, 'k', 's', SQ)
axC.plot(qCr_s, ICr_s, 'v', color='red', ms=TR, mew=0.4)
ebar(axC, qCr_m, ICr_m, eCr_m, 'red', 'v', TR)
ebar(axC, qCr_f, ICr_f, eCr_f, 'red', 'v', TR)
axC.plot(qCb_s, ICb_s, '^', color='blue', ms=TR, mew=0.4)
ebar(axC, qCb_n, ICb_n, eCb_n, 'blue', '^', TR)
hC = [Line2D([], [], ls='none', marker='s', color='k', ms=5.5),
      Line2D([], [], ls='none', marker='v', color='red', ms=7),
      Line2D([], [], ls='none', marker='^', color='blue', ms=7)]
axC.legend(hC, ['3 mg/mL chitin, 47 % D$_2$O', '10 mg/mL chitin, 47 % D$_2$O',
                '3 mg/mL chitin, 100 % D$_2$O'], loc='upper left',
           bbox_to_anchor=(0.373, 0.952), frameon=False, fontsize=12, handlelength=2.0,
           handletextpad=0.6, labelspacing=0.62, borderpad=0, borderaxespad=0)
axC.set_ylabel(ylab, fontsize=20.7)
axC.set_xlabel(xlab, fontsize=20.7)
axC.yaxis.set_label_coords(-0.155, 0.5)
axC.xaxis.set_label_coords(0.5, -0.126)

# D
ebar(axD, qDk, IDk, eDk, 'k', 's', SQ)
ebar(axD, qDb_n, IDb_n, eDb_n, 'blue', 'v', TR)
axD.plot(qDb_s, IDb_s, 'v', color='blue', ms=TR, mew=0.4)
ebar(axD, qDb_h, IDb_h, eDb_h, 'blue', 'v', TR)
axD.plot(qDr_s, IDr_s, '^', color='red', ms=TR, mew=0.4)
ebar(axD, qDr_m, IDr_m, eDr_m, 'red', '^', TR)
ebar(axD, qDr_f, IDr_f, eDr_f, 'red', '^', TR)
hD = [Line2D([], [], ls='none', marker='s', color='k', ms=5.5),
      Line2D([], [], ls='none', marker='v', color='blue', ms=7),
      Line2D([], [], ls='none', marker='^', color='red', ms=7)]
axD.legend(hD, ['H-GbpA (2 mg/mL), 47 % D$_2$O', 'D-GbpA (2 mg/mL), 47 % D$_2$O',
                'Chitin (10 mg/mL), 47 % D$_2$O'], loc='upper left',
           bbox_to_anchor=(0.383, 0.968), frameon=False, fontsize=12, handlelength=1.5,
           handletextpad=0.28, labelspacing=0.45, borderpad=0, borderaxespad=0)
axD.set_ylabel(ylab, fontsize=20.7)
axD.set_xlabel(xlab, fontsize=20.7)
axD.yaxis.set_label_coords(-0.157, 0.5)
axD.xaxis.set_label_coords(0.5, -0.129)

for x, y, s in [(0.107, 0.985, 'A'), (0.631, 0.985, 'B'),
                (0.1097, 0.4572, 'C'), (0.630, 0.4572, 'D')]:
    fig.text(x, y, s, fontsize=19.5, ha='center', va='center')

fig.savefig('out.png', dpi=300)
